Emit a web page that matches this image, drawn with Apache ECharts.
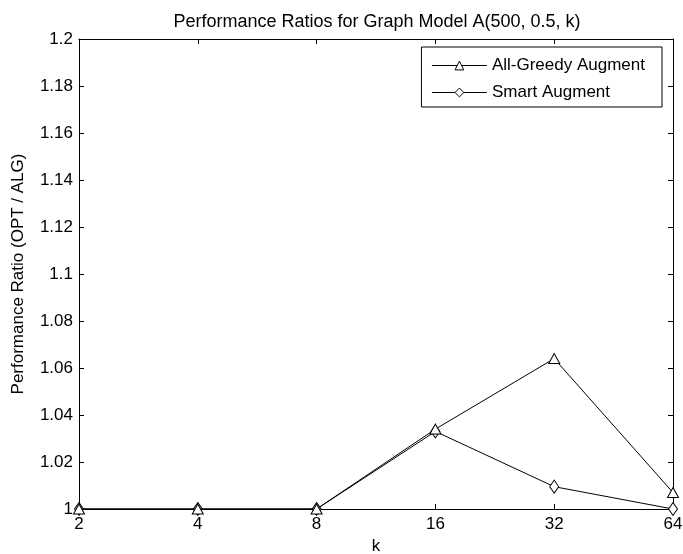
<!DOCTYPE html>
<html>
<head>
<meta charset="utf-8">
<script src="https://cdn.jsdelivr.net/npm/echarts@6/dist/echarts.min.js"></script>
<style>
  html, body { margin: 0; padding: 0; background: #fff; }
  #chart { width: 683px; height: 554px; }
</style>
</head>
<body>
<div id="chart"></div>
<script>
const kValues = ["2", "4", "8", "16", "32", "64"];
const allGreedy = [1, 1, 1, 1.034, 1.064, 1.007];
const smartAug = [1, 1, 1, 1.033, 1.0095, 1.0];

const font = "Liberation Sans";

const option = {
  backgroundColor: "#fff",
  animation: false,
  title: {
    text: "Performance Ratios for Graph Model A(500, 0.5, k)",
    left: 372,
    textAlign: "center",
    top: 8,
    textStyle: { fontFamily: font, fontSize: 18, fontWeight: "normal", color: "#000" },
  },
  legend: {
    orient: "vertical",
    right: 21,
    top: 47,
    padding: [10, 17, 6, 10],
    itemGap: 10,
    itemWidth: 55,
    itemHeight: 11,
    borderColor: "#000",
    borderWidth: 1,
    backgroundColor: "#fff",
    lineStyle: { width: 1, color: "#000" },
    itemStyle: { borderWidth: 1 },
    textStyle: { fontFamily: font, fontSize: 17, color: "#000" },
    data: ["All-Greedy Augment", "Smart Augment"],
  },
  grid: { left: 79, right: 10, top: 39, bottom: 45, containLabel: false, outerBoundsMode: "none" },
  xAxis: [
    {
      type: "category",
      data: kValues,
      boundaryGap: false,
      name: "k",
      nameLocation: "middle",
      nameGap: 29,
      nameTextStyle: { fontFamily: font, fontSize: 17, color: "#000" },
      axisLine: { lineStyle: { color: "#000", width: 1 } },
      axisTick: { inside: true, length: 5, lineStyle: { color: "#000" } },
      axisLabel: { fontFamily: font, fontSize: 17, color: "#000", margin: 7 },
      splitLine: { show: false },
    },
    {
      type: "category",
      data: kValues,
      boundaryGap: false,
      position: "top",
      axisLine: { lineStyle: { color: "#000", width: 1 } },
      axisTick: { inside: true, length: 5, lineStyle: { color: "#000" } },
      axisLabel: { show: false },
    },
  ],
  yAxis: [
    {
      type: "value",
      min: 1,
      max: 1.2,
      interval: 0.02,
      name: "Performance Ratio (OPT / ALG)",
      nameLocation: "middle",
      nameGap: 52,
      nameTextStyle: { fontFamily: font, fontSize: 17, color: "#000" },
      axisLine: { show: true, lineStyle: { color: "#000", width: 1 } },
      axisTick: { show: true, inside: true, length: 5, lineStyle: { color: "#000" } },
      axisLabel: { fontFamily: font, fontSize: 17, color: "#000", margin: 6 },
      splitLine: { show: false },
    },
    {
      type: "value",
      min: 1,
      max: 1.2,
      interval: 0.02,
      position: "right",
      axisLine: { show: true, lineStyle: { color: "#000", width: 1 } },
      axisTick: { show: true, inside: true, length: 5, lineStyle: { color: "#000" } },
      axisLabel: { show: false },
      splitLine: { show: false },
    },
  ],
  series: [
    {
      name: "All-Greedy Augment",
      type: "line",
      data: allGreedy,
      symbol: "triangle",
      symbolSize: [11, 10],
      clip: false,
      lineStyle: { color: "#000", width: 1 },
      itemStyle: { color: "#fff", borderColor: "#000", borderWidth: 1 },
      z: 3,
    },
    {
      name: "Smart Augment",
      type: "line",
      data: smartAug,
      symbol: "diamond",
      symbolSize: [9, 13],
      clip: false,
      lineStyle: { color: "#000", width: 1 },
      itemStyle: { color: "#fff", borderColor: "#000", borderWidth: 1 },
      z: 2,
    },
  ],
};

const myChart = echarts.init(document.getElementById("chart"));
myChart.setOption(option);
</script>
</body>
</html>
